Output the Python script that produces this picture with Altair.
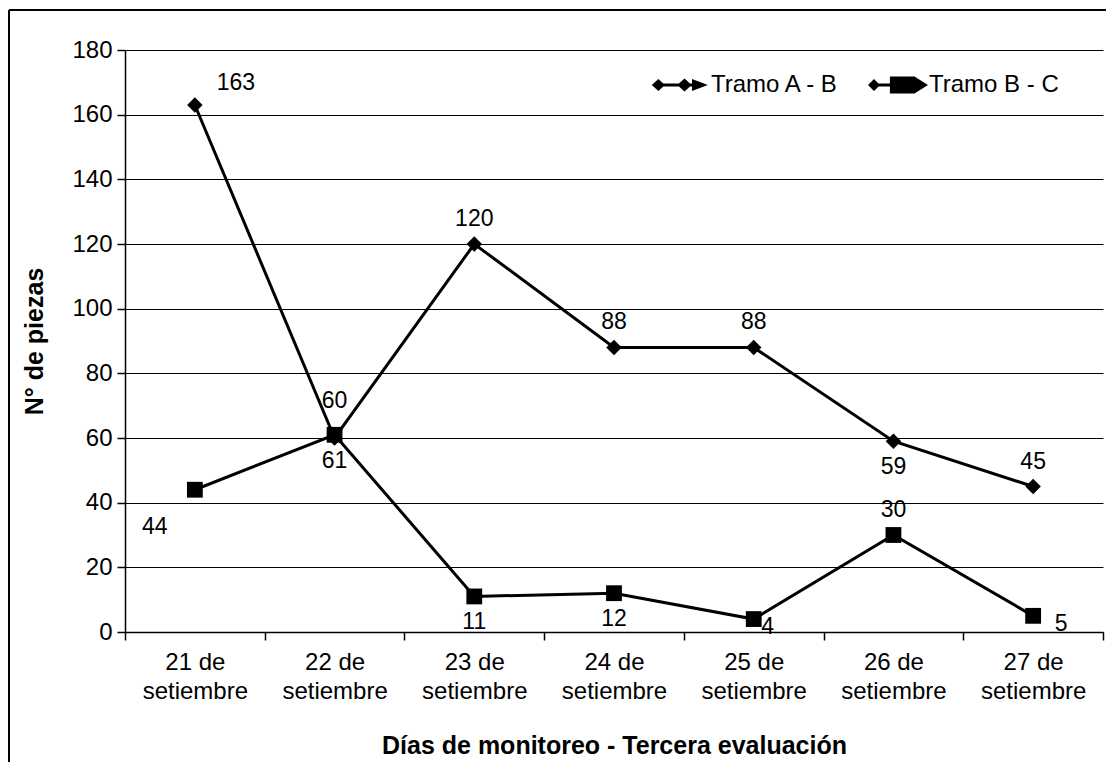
import altair as alt
import pandas as pd

dias = ["21 de setiembre", "22 de setiembre", "23 de setiembre", "24 de setiembre",
        "25 de setiembre", "26 de setiembre", "27 de setiembre"]
tramo_ab = [163, 60, 120, 88, 88, 59, 45]
tramo_bc = [44, 61, 11, 12, 4, 30, 5]
series_names = ["Tramo A - B", "Tramo B - C"]
# where each value label sits relative to its point
place_ab = ["above_right", "above_hi", "above", "above", "above", "below", "above"]
place_bc = ["below_left", "below", "below", "below", "below_right", "above", "right"]

offsets = {
    "above": (0, -25), "above_hi": (0, -37), "below": (0, 26),
    "above_right": (41, -22), "below_left": (-40, 37),
    "below_right": (14, 8), "right": (28, 8),
}

rows = []
for s, vals, pl in [(series_names[0], tramo_ab, place_ab), (series_names[1], tramo_bc, place_bc)]:
    for d, v, p in zip(dias, vals, pl):
        rows.append({"dia": d, "valor": v, "serie": s, "leyenda": s, "pos": p})
df = pd.DataFrame(rows)

FONT = "Liberation Sans"
W, H = 978, 582

x_enc = alt.X("dia:N", sort=dias, bandPosition=0.5,
              scale=alt.Scale(type="band", paddingInner=0, paddingOuter=0),
              axis=alt.Axis(title="Días de monitoreo - Tercera evaluación",
                            labelAngle=0, tickBand="extent", ticks=True, tickSize=8,
                            tickColor="black", domainColor="black", domainWidth=1.5,
                            tickWidth=1.5, grid=False,
                            labelExpr="[slice(datum.label,0,5), slice(datum.label,6)]",
                            labelFontSize=24, labelFont=FONT, labelColor="black",
                            labelLineHeight=29, labelPadding=10,
                            titleFontSize=25, titleFont=FONT, titleFontWeight="bold",
                            titleColor="black", titlePadding=30))
y_enc = alt.Y("valor:Q",
              scale=alt.Scale(domain=[0, 180], nice=False),
              axis=alt.Axis(title="N° de piezas", values=list(range(0, 181, 20)),
                            tickSize=8, tickColor="black", tickWidth=1.5,
                            domainColor="black", domainWidth=1.5,
                            gridColor="black", gridWidth=1.2,
                            labelFontSize=24, labelFont=FONT, labelColor="black",
                            labelPadding=5,
                            titleFontSize=25, titleFont=FONT, titleFontWeight="bold",
                            titleColor="black", titlePadding=24))

base = alt.Chart(df)

lines = base.mark_line(strokeWidth=3, color="black").encode(
    x=x_enc, y=y_enc, detail="serie:N")

points = base.mark_point(filled=True, opacity=1, color="black").encode(
    x=x_enc, y=y_enc,
    shape=alt.Shape("serie:N",
                    scale=alt.Scale(domain=series_names, range=["diamond", "square"]),
                    legend=None),
    size=alt.Size("serie:N", scale=alt.Scale(domain=series_names, range=[240, 250]),
                  legend=None))

leg_paths = [
    # diamond - line - diamond - arrow
    "M-0.72,-0.05L0.5,-0.05L0.5,0.05L-0.72,0.05Z"
    "M-0.72,-0.2L-0.5,0L-0.72,0.2L-0.94,0Z"
    "M0.15,-0.22L0.39,0L0.15,0.22L-0.09,0Z"
    "M0.4,-0.2L0.93,0L0.4,0.2Z",
    # diamond - line - block arrow
    "M-0.8,-0.05L-0.2,-0.05L-0.2,0.05L-0.8,0.05Z"
    "M-0.8,-0.2L-0.6,0L-0.8,0.2L-1,0Z"
    "M-0.27,-0.28L0.55,-0.28L1,0L0.55,0.28L-0.27,0.28Z",
]
legend_layer = base.mark_point(filled=True, size=0, color="black").encode(
    x=x_enc, y=y_enc,
    shape=alt.Shape("leyenda:N",
                    scale=alt.Scale(domain=series_names, range=leg_paths),
                    legend=alt.Legend(title=None, orient="none", direction="horizontal",
                                      legendX=525, legendY=5,
                                      labelFontSize=24, labelFont=FONT, labelColor="black",
                                      symbolSize=3600, symbolStrokeWidth=0,
                                      symbolOpacity=1,
                                      symbolFillColor="black",
                                      columnPadding=28, labelOffset=1)))

labels = []
for name, (dx, dy) in offsets.items():
    labels.append(
        base.transform_filter(alt.datum.pos == name).mark_text(
            font=FONT, fontSize=23, color="black", dx=dx, dy=dy,
            align="center", baseline="middle"
        ).encode(x=x_enc, y=y_enc, text="valor:Q")
    )

frame_df = pd.DataFrame({"k": [0]})
frame_left = alt.Chart(frame_df).mark_rule(color="black", strokeWidth=2).encode(
    x=alt.value(-116), y=alt.value(-40), y2=alt.value(712))
frame_top = alt.Chart(frame_df).mark_rule(color="black", strokeWidth=2).encode(
    x=alt.value(-116), x2=alt.value(990), y=alt.value(-40))

chart = alt.layer(frame_left, frame_top, lines, points, legend_layer, *labels).resolve_scale(
    shape="independent", size="independent"
).resolve_legend(shape="independent").properties(
    width=W, height=H,
    autosize=alt.AutoSizeParams(type="none"),
    padding={"left": 117, "top": 42, "right": 3, "bottom": 130},
    background="white",
).configure_view(stroke=None)

chart.save("out.html", embed_options={"renderer": "svg", "actions": False})
